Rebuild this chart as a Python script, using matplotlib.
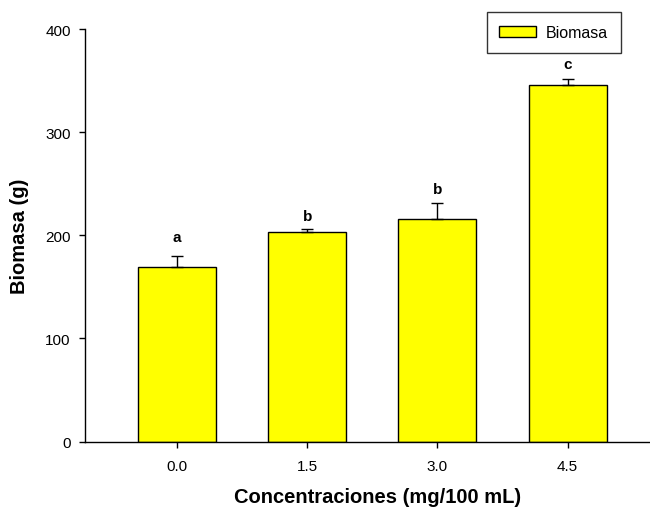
import matplotlib
matplotlib.use("Agg")
import matplotlib.pyplot as plt
import numpy as np

plt.rcParams['font.family'] = ['Liberation Sans', 'DejaVu Sans']

categories = ["0.0", "1.5", "3.0", "4.5"]
biomasa = [169, 203, 216, 346]
errors = [11, 3, 15, 6]
letters = ["a", "b", "b", "c"]
letter_y = [198, 219, 245, 366]

fig = plt.figure(figsize=(6.5, 5.1), dpi=100)
ax = fig.add_axes([85/650, 1-442.5/510, 564/650, 412.5/510])

x = np.arange(len(categories))
ax.bar(x, biomasa, width=0.6, color='#ffff00', edgecolor='black', linewidth=1.0,
       label='Biomasa', zorder=2)
ax.errorbar(x, biomasa, yerr=[np.zeros(len(errors)), errors], fmt='none',
            ecolor='black', elinewidth=1.0, capsize=4.5, capthick=1.0, zorder=3)
for xi, t, ly in zip(x, letters, letter_y):
    ax.text(xi, ly, t, ha='center', va='center', fontsize=11, fontweight='bold')

ax.set_xlim(-0.709, 3.626)
ax.set_ylim(0, 400)
ax.set_xticks(x)
ax.set_xticklabels(categories)
ax.set_yticks([0, 100, 200, 300, 400])
ax.tick_params(axis='both', direction='out', length=4.3, width=1, labelsize=11)
ax.tick_params(axis='x', pad=8.5)
ax.tick_params(axis='y', pad=6)
ax.spines['top'].set_visible(False)
ax.spines['right'].set_visible(False)
for s in ['left', 'bottom']:
    ax.spines[s].set_linewidth(1.0)
ax.set_xlabel('Concentraciones (mg/100 mL)', fontsize=14.5, fontweight='bold', labelpad=10)
ax.xaxis.label.set_x((377.5 - 85) / 564)
ax.set_ylabel('Biomasa (g)', fontsize=14.5, fontweight='bold', labelpad=12)

leg = ax.legend(loc='center', bbox_to_anchor=(553.5/650, 1-33.5/510),
                bbox_transform=fig.transFigure, fontsize=11.5, frameon=True,
                fancybox=False, edgecolor='black', handlelength=2.3, handleheight=0.7,
                borderpad=0.8, handletextpad=0.6, borderaxespad=0)
leg.get_frame().set_linewidth(1.0)

fig.savefig('out.png', dpi=100)
